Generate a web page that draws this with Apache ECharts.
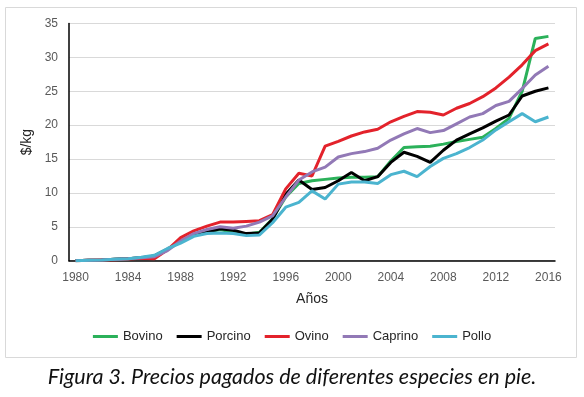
<!DOCTYPE html>
<html>
<head>
<meta charset="utf-8">
<script src="https://cdn.jsdelivr.net/npm/echarts@6/dist/echarts.min.js"></script>
<style>
  html, body { margin: 0; padding: 0; background: #fff; }
  #chart { width: 584px; height: 397px; }
</style>
</head>
<body>
<div id="chart"></div>
<script>
var chart = echarts.init(document.getElementById('chart'));

// años 1980 - 2016
var years = [];
for (var y = 1980; y <= 2016; y++) years.push(String(y));

var bovino = [0, 0.05, 0.1, 0.2, 0.3, 0.45, 0.6, 1.7, 2.9, 3.7, 4.2, 4.6, 4.2, 3.9, 4.2, 6.2, 9.4, 11.4, 11.8, 12.0,
  12.2, 12.3, 12.3, 12.4, 14.7, 16.7, 16.8, 16.9, 17.2, 17.6, 17.9, 18.2, 19.5, 21.0, 25.0, 32.8, 33.1];
var porcino = [0, 0.05, 0.1, 0.2, 0.3, 0.45, 0.7, 1.7, 2.9, 3.7, 4.2, 4.7, 4.5, 4.0, 4.1, 6.1, 9.8, 11.9, 10.5, 10.8,
  11.8, 13.0, 11.8, 12.4, 14.5, 16.0, 15.4, 14.5, 16.3, 17.8, 18.7, 19.6, 20.6, 21.5, 24.3, 25.0, 25.5];
var ovino = [0, 0.05, 0.1, 0.15, 0.25, 0.35, 0.3, 1.6, 3.4, 4.4, 5.1, 5.7, 5.7, 5.8, 5.9, 6.8, 10.6, 12.9, 12.5, 16.9,
  17.6, 18.4, 19.0, 19.4, 20.5, 21.3, 22.0, 21.9, 21.5, 22.5, 23.2, 24.2, 25.5, 27.1, 28.9, 31.0, 32.0];
var caprino = [0, 0.05, 0.1, 0.2, 0.3, 0.45, 0.6, 1.5, 2.9, 4.0, 4.6, 5.0, 4.8, 5.1, 5.7, 6.6, 9.4, 11.9, 13.1, 13.8,
  15.3, 15.8, 16.1, 16.6, 17.8, 18.7, 19.5, 18.9, 19.2, 20.2, 21.2, 21.7, 22.9, 23.5, 25.4, 27.4, 28.7];
var pollo = [0, 0.05, 0.1, 0.2, 0.3, 0.5, 0.8, 1.8, 2.6, 3.6, 4.0, 4.1, 4.0, 3.7, 3.8, 5.6, 7.9, 8.6, 10.3, 9.1,
  11.3, 11.6, 11.6, 11.4, 12.7, 13.2, 12.4, 13.9, 15.1, 15.8, 16.7, 17.8, 19.3, 20.5, 21.7, 20.5, 21.2];

var nombres = ['Bovino', 'Porcino', 'Ovino', 'Caprino', 'Pollo'];
var datos = [bovino, porcino, ovino, caprino, pollo];
var colores = ['#2bb15a', '#000000', '#e3222b', '#9279b6', '#4bb4cf'];

var series = nombres.map(function (n, i) {
    return {
        name: n,
        type: 'line',
        data: datos[i],
        symbol: 'none',
        lineStyle: { width: 3, color: colores[i] },
        itemStyle: { color: colores[i] }
    };
});

var font = 'Liberation Sans, Arial, sans-serif';

var option = {
    animation: false,
    graphic: [{
        type: 'rect',
        shape: { x: 5.5, y: 7.5, width: 571, height: 350 },
        style: { fill: 'none', stroke: '#d9d9d9', lineWidth: 1 }
    }],
    title: {
        text: 'Figura 3. Precios pagados de diferentes especies en pie.',
        left: 'center',
        top: 361,
        textStyle: { fontFamily: 'Lato', fontStyle: 'italic', fontWeight: 'normal', fontSize: 21.5, color: '#111' }
    },
    legend: {
        data: nombres,
        top: 325,
        left: 'center',
        icon: 'rect',
        itemWidth: 25,
        itemHeight: 3,
        itemGap: 14,
        textStyle: { fontFamily: font, fontSize: 13, color: '#262626' }
    },
    grid: { left: 69, right: 29, top: 23.5, bottom: 136.3 },
    xAxis: {
        type: 'category',
        data: years,
        boundaryGap: true,
        name: 'Años',
        nameLocation: 'middle',
        nameGap: 31,
        nameTextStyle: { fontFamily: font, fontSize: 14, color: '#262626' },
        axisLine: { lineStyle: { color: '#000', width: 1.5 } },
        axisTick: { show: false },
        axisLabel: { interval: 3, margin: 11, fontFamily: font, fontSize: 12, color: '#595959' }
    },
    yAxis: {
        type: 'value',
        min: 0,
        max: 35,
        interval: 5,
        name: '$/kg',
        nameLocation: 'middle',
        nameGap: 29,
        nameTextStyle: { fontFamily: font, fontSize: 14, color: '#262626' },
        axisLine: { show: true, lineStyle: { color: '#000', width: 1.5 } },
        axisTick: { show: false },
        axisLabel: { margin: 11, fontFamily: font, fontSize: 12, color: '#595959' },
        splitLine: { lineStyle: { color: '#d9d9d9', width: 1 } }
    },
    series: series
};

chart.setOption(option);
</script>
</body>
</html>
